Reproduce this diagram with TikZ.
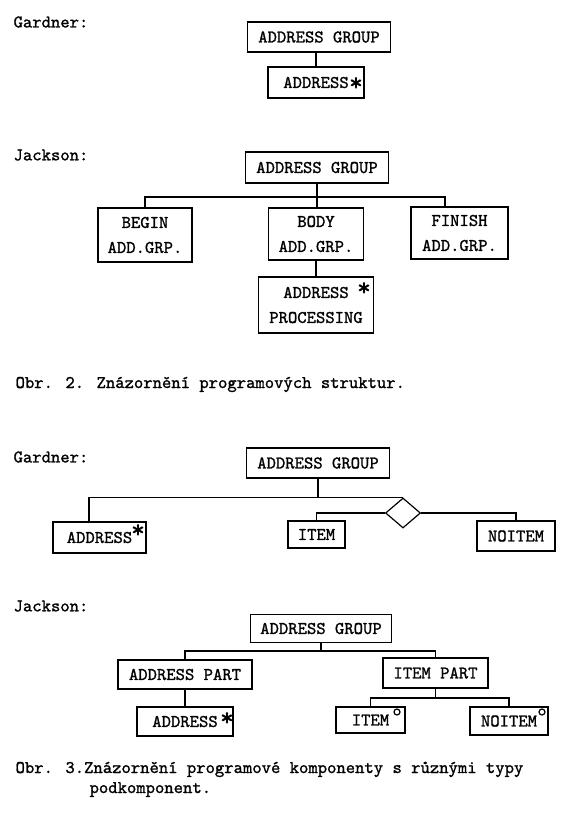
\documentclass[tikz,border=0pt]{standalone}
\usepackage{fontspec}
\usepackage{tikz}
\usetikzlibrary{shapes.geometric}
\newfontfamily\typewriter{lmmono10-regular.otf}[FakeBold=1.2]

\begin{document}
\begin{tikzpicture}[
    x=1pt,y=-1pt,
    line width=1.2pt,
    every node/.style={font=\typewriter\fontsize{17.8}{25}\selectfont},
    box/.style={rectangle,draw,inner sep=0pt,align=center},
    lbl/.style={anchor=west,inner sep=0pt},
    figcap/.style={anchor=base west,inner sep=0pt},
    iter/.style={inner sep=0pt,font=\typewriter\fontsize{26}{26}\selectfont},
    sel/.style={circle,draw,inner sep=0pt,minimum size=6pt},
    choice/.style={diamond,draw,inner sep=0pt,minimum width=35pt,minimum height=30pt}
]
\useasboundingbox (0,0) rectangle (572,820);
\node[lbl] (gard1) at (13,22) {Gardner:};
\node[box,minimum width=143,minimum height=30] (g1top) at (319,37) {ADDRESS GROUP};
\node[box,minimum width=96,minimum height=31] (g1addr) at (316,82.5) {ADDRESS};
\node[iter] (g1star) at (356,84) {*};
\draw (g1addr.north |- g1top.south) -- (g1addr.north);

\node[lbl] (jack1) at (13,155) {Jackson:};
\node[box,minimum width=143,minimum height=31] (j1top) at (317,167.5) {ADDRESS GROUP};
\node[box,minimum width=94,minimum height=54] (j1begin) at (145,235) {BEGIN\\ADD.GRP.};
\node[box,minimum width=95,minimum height=52] (j1body) at (316,234) {BODY\\ADD.GRP.};
\node[box,minimum width=97,minimum height=52] (j1finish) at (459.5,233) {FINISH\\ADD.GRP.};
\node[box,minimum width=115,minimum height=56] (j1proc) at (316,305) {ADDRESS\\PROCESSING};
\node[iter] (j1star) at (364,289) {*};
\coordinate (j1fin) at (445,197);
\draw (j1top.south) -- (j1top.south |- j1body.north);
\draw (j1begin.north) |- (j1fin) -- (j1fin |- j1finish.north);
\draw (j1body.south) -- (j1body.south |- j1proc.north);
\node[figcap] (cap2) at (15,388) {Obr. 2. Znázornění programových struktur.};

\node[lbl] (gard2) at (13,457) {Gardner:};
\node[box,minimum width=143,minimum height=30] (g2top) at (318,463) {ADDRESS GROUP};
\node[choice] (g2sel) at (403,513) {};
\node[box,minimum width=93,minimum height=31] (g2addr) at (99.5,537.5) {ADDRESS};
\node[iter] (g2star) at (138,531) {*};
\node[box,minimum width=57,minimum height=27] (g2item) at (316.5,534.5) {ITEM};
\node[box,minimum width=78,minimum height=30] (g2noitem) at (516,536) {NOITEM};
\coordinate (g2a) at (89,522);
\draw (g2top.south) -- (g2top.south |- g2sel.north);
\draw (g2a) |- (g2sel.north);
\draw (g2sel.west) -| (g2item.north);
\draw (g2sel.east) -| (g2noitem.north);

\node[lbl] (jack2) at (13,606) {Jackson:};
\node[box,minimum width=141,minimum height=28] (j2top) at (321,628.5) {ADDRESS GROUP};
\node[box,minimum width=134,minimum height=29] (j2apart) at (185,674.5) {ADDRESS PART};
\node[box,minimum width=105,minimum height=30] (j2ipart) at (435.5,673) {ITEM PART};
\node[box,minimum width=96,minimum height=29] (j2addr) at (185,721.5) {ADDRESS};
\node[iter] (j2star) at (227,719) {*};
\node[box,minimum width=69,minimum height=26] (j2item) at (370.5,720) {ITEM};
\node[box,minimum width=78,minimum height=28] (j2noitem) at (509,721) {NOITEM};
\node[sel] (j2itemo) at (397,712) {};
\node[sel] (j2noitemo) at (542,712) {};
\coordinate (j2bus) at (0,651);
\coordinate (j2bus2) at (0,698);
\draw (j2top.south) -- (j2top.south |- j2bus);
\draw (j2apart.north) |- (j2ipart.north |- j2bus) -- (j2ipart.north);
\draw (j2apart.south) -- (j2addr.north);
\draw (j2ipart.south) -- (j2ipart.south |- j2bus2);
\draw (j2item.north) |- (j2noitem.north |- j2bus2) -- (j2noitem.north);
\node[figcap] (cap3a) at (15,773) {Obr. 3.Znázornění programové komponenty s různými typy};
\node[figcap] (cap3b) at (89,793) {podkomponent.};
\end{tikzpicture}
\end{document}
